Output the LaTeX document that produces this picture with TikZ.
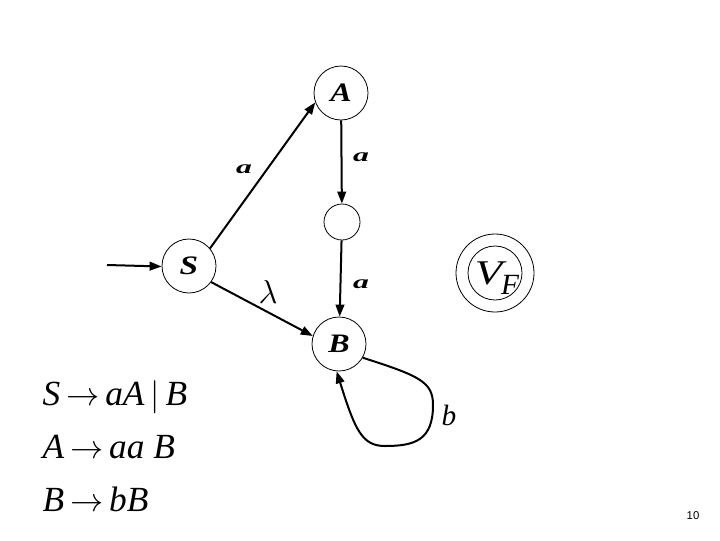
\documentclass[tikz,border=0pt]{standalone}
\usepackage{amsmath}
\usepackage{fontspec}
\setmainfont{Liberation Serif}
\newfontfamily\pagefont{Liberation Sans}
\usetikzlibrary{arrows.meta}
\newcommand{\wideA}[2]{\scalebox{#1}[1]{#2}}
\begin{document}
\begin{tikzpicture}[x=0.75pt,y=-0.75pt,
  st/.style={circle,draw,line width=0.6pt,inner sep=0pt,minimum size=40.5pt,
    font=\fontsize{20pt}{20pt}\selectfont\bfseries\itshape},
  conn/.style={line width=1.5pt,-{Triangle[length=9pt,width=6.5pt]}},
  lab/.style={font=\fontsize{14pt}{14pt}\selectfont\bfseries\itshape},
  gram/.style={anchor=base west,font=\fontsize{26.5pt}{26.5pt}\selectfont\itshape}]
\useasboundingbox (0,0) rectangle (720,540);
\node[st] (A) at (341,93) {\wideA{1.2}{A}};
\node[st,minimum size=27pt] (M) at (342,222) {};
\node[st] (S) at (189,266) {\wideA{1.25}{S}};
\node[st] (B) at (339,344) {\wideA{1.2}{B}};
\node[circle,draw,line width=0.6pt,minimum size=58.5pt,inner sep=0pt] (VF) at (495,273) {};
\node[circle,draw,line width=0.6pt,minimum size=40.5pt,inner sep=0pt] (VFi) at (495,273) {};
\node[font=\fontsize{26pt}{26pt}\selectfont\itshape,inner sep=0pt] (VFl) at (497,278) {\wideA{1.3}{V}\kern-1pt\raisebox{-7pt}{\fontsize{22pt}{22pt}\selectfont F}};
\coordinate (in) at (107,265);
\draw[conn] (in) -- (S.181);
\draw[conn] (S.40) -- (A.200);
\draw[conn] (A) -- (M);
\draw[conn] (M) -- (B);
\draw[conn] (S.-36) -- (B.163);
\draw[conn] (B.-30) .. controls (420,376) and (433,382) .. (433,405)
  .. controls (433,440) and (415,446) .. (385,446)
  .. controls (362,446) and (355,430) .. (B.-95);
\node[lab] (la1) at (244,169) {\wideA{1.7}{a}};
\node[lab] (la2) at (361,157) {\wideA{1.7}{a}};
\node[lab] (la3) at (361,284) {\wideA{1.7}{a}};
\node[font=\fontsize{24pt}{24pt}\selectfont] (ll) at (268,292) {$\lambda$};
\node[font=\fontsize{22pt}{22pt}\selectfont\itshape] (lb) at (449,415) {b};
\node[gram] (g1) at (38,405) {S\,$\rightarrow$\,aA\,$|$\,B};
\node[gram] (g2) at (38,458) {A\,$\rightarrow$\,aa B};
\node[gram] (g3) at (38,511) {B\,$\rightarrow$\,bB};
\node[font=\pagefont\fontsize{8.5pt}{8.5pt}\selectfont] (pg) at (693,516) {10};
\end{tikzpicture}
\end{document}
